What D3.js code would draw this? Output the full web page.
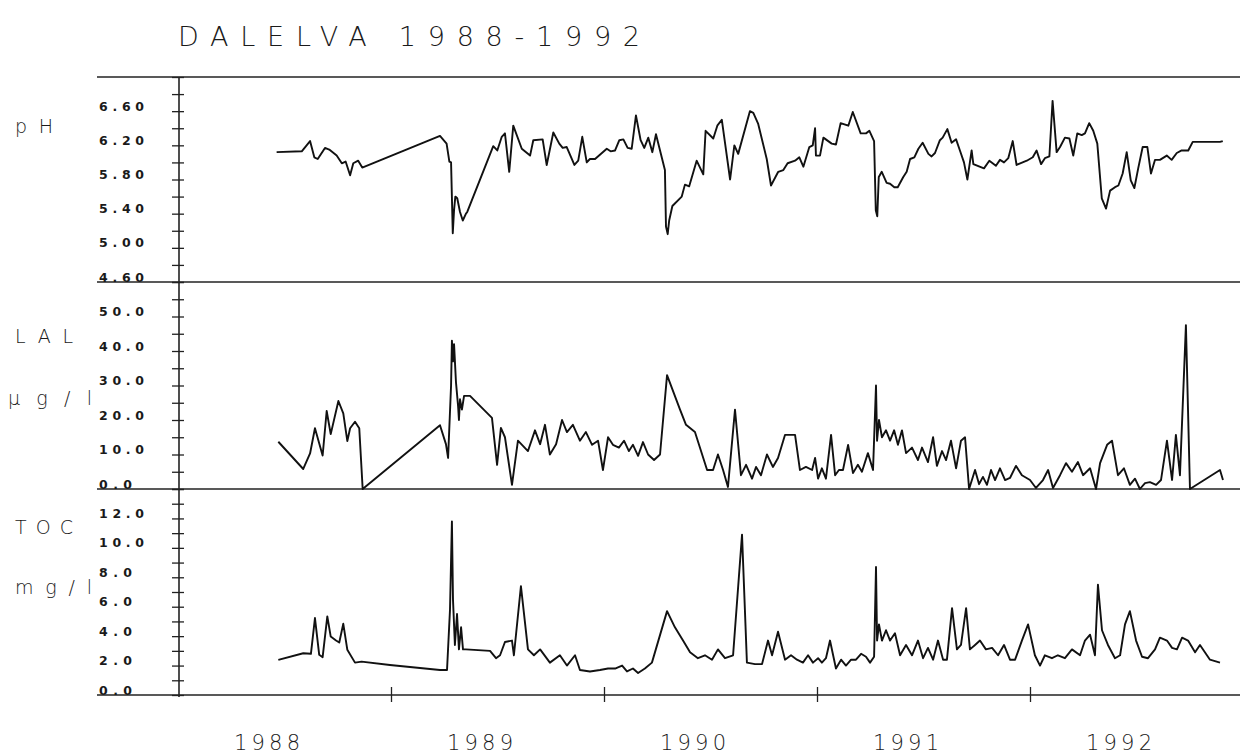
<!DOCTYPE html>
<html><head><meta charset="utf-8">
<script src="https://cdn.jsdelivr.net/npm/d3@7"></script>
<style>
html,body{margin:0;padding:0;background:#fff;}
svg{display:block;}
.thin{font-family:"DejaVu Sans","Lato",sans-serif;font-weight:200;fill:#1a1a1a;}
.tick-label{font-family:"DejaVu Sans","Lato",sans-serif;font-weight:bold;fill:#1a1a1a;}
</style>
</head><body>
<svg id="chart" width="1243" height="756"></svg>
<script>
// ---------- DATA (time in decimal years) ----------
const title = "DALELVA 1988-1992";
const yearLabels = [1988, 1989, 1990, 1991, 1992];
const yearTicks = [1989, 1990, 1991, 1992];

const phTickLabels = ["4.60", "5.00", "5.40", "5.80", "6.20", "6.60"];
const lalTickLabels = ["0.0", "10.0", "20.0", "30.0", "40.0", "50.0"];
const tocTickLabels = ["0.0", "2.0", "4.0", "6.0", "8.0", "10.0", "12.0"];

const phTime = [1988.463,1988.581,1988.620,1988.640,1988.656,1988.690,1988.710,1988.745,1988.769,1988.787,1988.808,1988.823,1988.846,1988.865,
1989.230,1989.261,1989.274,1989.282,1989.290,1989.296,1989.302,1989.311,1989.324,1989.337,1989.352,1989.358,
1989.480,1989.499,1989.520,1989.535,1989.555,1989.574,1989.614,1989.653,1989.668,1989.712,1989.731,1989.762,1989.790,1989.806,1989.825,1989.861,1989.879,1989.898,1989.919,1989.934,1989.958,
1990.013,1990.031,1990.052,1990.072,1990.091,1990.111,1990.130,1990.150,1990.172,1990.189,1990.208,1990.227,1990.244,1990.286,1990.291,1990.299,1990.306,1990.321,1990.365,1990.380,1990.400,1990.435,1990.466,1990.477,1990.513,1990.532,1990.553,1990.592,1990.612,1990.630,1990.685,1990.701,1990.724,1990.764,1990.784,1990.818,1990.842,1990.862,1990.897,1990.917,1990.936,1990.964,1990.980,1990.991,1990.995,
1991.014,1991.030,1991.069,1991.089,1991.111,1991.147,1991.168,1991.205,1991.230,1991.246,1991.268,1991.276,1991.283,1991.290,1991.304,1991.327,1991.343,1991.363,1991.379,1991.405,1991.421,1991.437,1991.457,1991.476,1991.496,1991.523,1991.538,1991.554,1991.577,1991.590,1991.612,1991.632,1991.653,1991.671,1991.690,1991.706,1991.726,1991.734,1991.784,1991.809,1991.840,1991.859,1991.878,1991.898,1991.919,1991.937,1991.985,
1992.013,1992.031,1992.052,1992.070,1992.091,1992.106,1992.125,1992.141,1992.164,1992.185,1992.203,1992.222,1992.243,1992.258,1992.278,1992.297,1992.316,1992.337,1992.357,1992.376,1992.399,1992.415,1992.435,1992.454,1992.473,1992.490,1992.508,1992.529,1992.551,1992.568,1992.587,1992.610,1992.642,1992.665,1992.689,1992.712,1992.743,1992.764,1992.892,1992.905];
const phValue = [6.12,6.13,6.25,6.06,6.04,6.17,6.15,6.08,5.99,6.01,5.85,5.99,6.02,5.94,
6.31,6.22,6.01,6.00,5.17,5.44,5.60,5.58,5.42,5.32,5.40,5.42,
6.19,6.14,6.30,6.34,5.89,6.43,6.16,6.08,6.26,6.27,5.97,6.35,6.22,6.17,6.18,5.97,6.02,6.30,6.00,6.04,6.04,
6.16,6.13,6.14,6.26,6.27,6.17,6.16,6.55,6.26,6.17,6.29,6.12,6.33,5.91,5.25,5.16,5.32,5.49,5.60,5.74,5.72,6.02,5.86,6.37,6.28,6.43,6.50,5.80,6.20,6.10,6.60,6.58,6.45,6.04,5.73,5.89,5.91,5.99,6.02,6.06,5.95,6.18,6.20,6.40,6.08,
6.08,6.29,6.22,6.21,6.46,6.43,6.59,6.34,6.34,6.37,6.25,5.44,5.37,5.83,5.89,5.76,5.75,5.71,5.71,5.83,5.89,6.04,6.06,6.16,6.23,6.10,6.07,6.11,6.26,6.29,6.39,6.23,6.27,6.14,6.00,5.80,6.14,5.98,5.93,6.02,5.96,6.03,6.00,6.05,6.25,5.97,6.02,
6.06,6.14,5.98,6.05,6.07,6.72,6.12,6.18,6.29,6.28,6.08,6.34,6.32,6.34,6.46,6.37,6.22,5.58,5.46,5.67,5.71,5.73,5.87,6.12,5.79,5.70,5.93,6.18,6.18,5.87,6.03,6.03,6.08,6.03,6.11,6.14,6.14,6.24,6.24,6.25];

const lalTime = [1988.471,1988.588,1988.620,1988.643,1988.679,1988.698,1988.717,1988.753,1988.776,1988.795,1988.808,1988.831,1988.851,1988.867,
1989.230,1989.258,1989.268,1989.282,1989.286,1989.291,1989.296,1989.305,1989.315,1989.319,1989.324,1989.333,1989.343,1989.371,1989.474,1989.498,1989.516,1989.535,1989.568,1989.596,1989.643,1989.676,1989.700,1989.723,1989.746,1989.775,1989.803,1989.826,1989.854,1989.887,1989.915,1989.944,1989.972,1989.995,
1990.019,1990.042,1990.070,1990.094,1990.117,1990.136,1990.160,1990.183,1990.207,1990.235,1990.263,1990.296,1990.357,1990.385,1990.427,1990.484,1990.512,1990.535,1990.559,1990.582,1990.615,1990.643,1990.667,1990.695,1990.714,1990.737,1990.765,1990.793,1990.817,1990.850,1990.897,1990.920,1990.948,1990.977,1990.991,
1991.005,1991.023,1991.042,1991.066,1991.085,1991.103,1991.122,1991.146,1991.169,1991.192,1991.211,1991.239,1991.263,1991.277,1991.282,1991.291,1991.305,1991.324,1991.343,1991.362,1991.380,1991.399,1991.418,1991.446,1991.474,1991.493,1991.521,1991.545,1991.563,1991.587,1991.606,1991.629,1991.653,1991.676,1991.695,1991.714,1991.742,1991.761,1991.779,1991.798,1991.817,1991.836,1991.859,1991.883,1991.906,1991.934,1991.962,
1992.000,1992.028,1992.061,1992.085,1992.108,1992.141,1992.169,1992.197,1992.225,1992.249,1992.282,1992.310,1992.329,1992.362,1992.385,1992.413,1992.441,1992.469,1992.493,1992.516,1992.540,1992.563,1992.592,1992.615,1992.643,1992.667,1992.685,1992.704,1992.732,1992.751,1992.892,1992.906];
const lalValue = [13.7,5.8,10.3,17.6,9.7,22.6,15.9,25.5,21.9,13.9,17.6,19.5,17.6,0,
18.5,13,9,30,43,37,42,31,24,20,26,23,27,27,20.6,7,17.7,15,1.2,14,11,17,13,18.6,10,13,20,16.5,18.6,14,16.5,12.8,14,5.5,
15,12.8,12,14,11,12.8,9.6,13.6,10,8.4,10,33,23,18.6,16.5,5.5,5.5,10,5.5,0.6,23,4,7,3,6.4,4,10,6.4,9,15.7,15.7,5.5,6.4,5.5,9,
3,6,3,15.7,4,5.5,5.5,12.8,4.6,7,5,10.4,5.5,30,14,20,15,17,14,17,12.8,17,10.4,12,8.4,12,7.8,15,6.7,11,8.4,14,6,14,15,0,5.5,1.4,3.5,1.2,5.5,2.6,6,2.6,3.2,6.7,4,
2.6,0.3,2.6,5.5,0.3,4,7.5,5,7.8,4,6,0,7.5,12.8,14,4,6,1.2,3,0,1.7,2,1.2,2.6,14,2.6,15.7,4,47.5,0,5.5,2.6];

const tocTime = [1988.471,1988.588,1988.624,1988.643,1988.663,1988.679,1988.701,1988.717,1988.742,1988.757,1988.776,1988.795,1988.831,1988.862,1988.995,
1989.230,1989.263,1989.277,1989.286,1989.291,1989.300,1989.310,1989.319,1989.329,1989.338,1989.352,1989.465,1989.493,1989.512,1989.535,1989.568,1989.577,1989.610,1989.643,1989.671,1989.700,1989.746,1989.793,1989.826,1989.864,1989.887,1989.934,1989.981,
1990.019,1990.052,1990.085,1990.108,1990.136,1990.160,1990.192,1990.225,1990.296,1990.333,1990.371,1990.404,1990.441,1990.474,1990.507,1990.535,1990.568,1990.606,1990.648,1990.671,1990.709,1990.742,1990.770,1990.789,1990.817,1990.850,1990.878,1990.906,1990.934,1990.958,1990.981,
1991.005,1991.023,1991.042,1991.061,1991.089,1991.113,1991.136,1991.160,1991.183,1991.207,1991.230,1991.249,1991.268,1991.277,1991.282,1991.291,1991.305,1991.324,1991.343,1991.366,1991.390,1991.418,1991.446,1991.474,1991.498,1991.521,1991.545,1991.568,1991.592,1991.610,1991.634,1991.657,1991.676,1991.700,1991.718,1991.742,1991.765,1991.793,1991.822,1991.850,1991.878,1991.906,1991.930,1991.962,1991.991,
1992.023,1992.047,1992.070,1992.103,1992.131,1992.164,1992.197,1992.235,1992.258,1992.282,1992.305,1992.319,1992.338,1992.366,1992.399,1992.423,1992.446,1992.469,1992.498,1992.526,1992.554,1992.587,1992.610,1992.643,1992.667,1992.690,1992.714,1992.742,1992.775,1992.798,1992.845,1992.892];
const tocValue = [2.39,2.84,2.80,5.23,2.73,2.57,5.34,3.97,3.70,3.57,4.84,3.07,2.20,2.27,2.04,
1.7,1.7,5.8,11.8,6.5,3.4,5.5,3.1,4.6,3.1,3.1,3.0,2.5,2.7,3.6,3.7,2.7,7.4,3.1,2.7,3.1,2.2,2.7,2.0,2.7,1.7,1.6,1.7,
1.8,1.8,2.0,1.6,1.8,1.5,1.8,2.2,5.7,4.6,3.7,2.9,2.5,2.7,2.4,3.1,2.5,2.7,10.9,2.2,2.1,2.1,3.7,2.7,4.3,2.4,2.7,2.4,2.2,2.7,2.2,
2.5,2.2,2.5,3.7,1.8,2.4,2.0,2.4,2.4,2.8,2.6,2.2,2.6,8.7,3.7,4.8,3.7,4.4,3.7,4.2,2.7,3.4,2.7,3.7,2.5,3.2,2.4,3.7,2.4,2.4,5.9,3.1,3.4,5.9,3.1,3.4,3.7,3.1,3.2,2.7,3.4,2.4,2.4,3.7,4.8,
2.7,2.0,2.7,2.5,2.7,2.5,3.1,2.7,3.7,4.1,2.7,7.5,4.4,3.4,2.5,2.7,4.8,5.7,3.7,2.6,2.5,3.1,3.9,3.7,3.2,3.1,3.9,3.7,2.9,3.4,2.4,2.2];

// ---------- LAYOUT ----------
const svg = d3.select("#chart");
const W = 1243, H = 756;
const axisX = 179, lineLeft = 97, lineRight = 1240;
const x = d3.scaleLinear().domain([1988, 1993]).range([178, 1243]);

const panels = [
  {name: "pH", unit: null, time: phTime, value: phValue, labels: phTickLabels,
   y: d3.scaleLinear().domain([4.6, 7.0]).range([282, 77]), minor: 0.2,
   nameY: 133, unitY: null, nameLen: 38},
  {name: "LAL", unit: "µg/l", time: lalTime, value: lalValue, labels: lalTickLabels,
   y: d3.scaleLinear().domain([0, 60]).range([489, 282]), minor: 5,
   nameY: 343, unitY: 405, nameLen: 58, unitLen: 84, unitX: 8},
  {name: "TOC", unit: "mg/l", time: tocTime, value: tocValue, labels: tocTickLabels,
   y: d3.scaleLinear().domain([0, 14]).range([695, 489]), minor: 1,
   nameY: 534, unitY: 594, nameLen: 58, unitLen: 77, unitX: 15}
];

svg.append("rect").attr("width", W).attr("height", H).attr("fill", "#fff");

// title
svg.append("text").attr("class", "thin")
  .attr("x", 178).attr("y", 46).attr("font-size", 27)
  .attr("textLength", 462).attr("lengthAdjust", "spacing")
  .text(title);

// horizontal frame lines
const frameYs = [77, 282, 489, 695];
svg.selectAll("line.frame").data(frameYs).enter().append("line")
  .attr("class", "frame")
  .attr("x1", lineLeft).attr("x2", lineRight)
  .attr("y1", d => d).attr("y2", d => d)
  .attr("stroke", "#222").attr("stroke-width", 1.6);

// vertical axis line
svg.append("line").attr("x1", axisX).attr("x2", axisX).attr("y1", 77).attr("y2", 697)
  .attr("stroke", "#222").attr("stroke-width", 1.6);

panels.forEach(p => {
  const [d0, d1] = p.y.domain();
  const n = Math.round((d1 - d0) / p.minor);
  const minorTicks = d3.range(0, n + 1).map(i => d0 + i * p.minor);
  const left = svg.append("g").attr("transform", `translate(${axisX},0)`)
    .call(d3.axisLeft(p.y).tickValues(minorTicks).tickSize(7).tickFormat(""));
  const right = svg.append("g").attr("transform", `translate(${axisX},0)`)
    .call(d3.axisRight(p.y).tickValues(minorTicks).tickSize(5).tickFormat(""));
  [left, right].forEach(g => {
    g.select(".domain").remove();
    g.selectAll("line").attr("stroke", "#222").attr("stroke-width", 1.3);
  });
  p.labels.forEach(l => {
    const v = +l;
    svg.append("text").attr("class", "tick-label")
      .attr("x", 99).attr("y", p.y(v) - 0.5)
      .attr("font-size", 12.5)
      .attr("textLength", l.length === 4 ? 45 : 33).attr("lengthAdjust", "spacing")
      .text(l);
  });
  svg.append("text").attr("class", "thin")
    .attr("x", 15).attr("y", p.nameY).attr("font-size", 19)
    .attr("textLength", p.nameLen).attr("lengthAdjust", "spacing")
    .text(p.name);
  if (p.unit) {
    svg.append("text").attr("class", "thin")
      .attr("x", p.unitX).attr("y", p.unitY).attr("font-size", 19)
      .attr("textLength", p.unitLen).attr("lengthAdjust", "spacing")
      .text(p.unit);
  }
  const pts = p.time.map((t, i) => [t, p.value[i]]);
  svg.append("path").datum(pts)
    .attr("fill", "none").attr("stroke", "#111").attr("stroke-width", 1.9)
    .attr("stroke-linejoin", "round")
    .attr("d", d3.line().x(d => x(d[0])).y(d => p.y(d[1])));
});

// x axis ticks (crossing the bottom line)
const xb = svg.append("g").attr("transform", "translate(0,695)")
  .call(d3.axisBottom(x).tickValues(yearTicks).tickSize(7).tickFormat(""));
const xt = svg.append("g").attr("transform", "translate(0,695)")
  .call(d3.axisTop(x).tickValues(yearTicks).tickSize(8).tickFormat(""));
[xb, xt].forEach(g => {
  g.select(".domain").remove();
  g.selectAll("line").attr("stroke", "#222").attr("stroke-width", 1.3);
});

// year labels
svg.selectAll("text.year").data(yearLabels).enter().append("text")
  .attr("class", "thin year")
  .attr("x", d => x(d + 0.418)).attr("y", 750)
  .attr("text-anchor", "middle").attr("font-size", 21)
  .attr("textLength", 66).attr("lengthAdjust", "spacing")
  .text(d => d);
</script>
</body></html>
